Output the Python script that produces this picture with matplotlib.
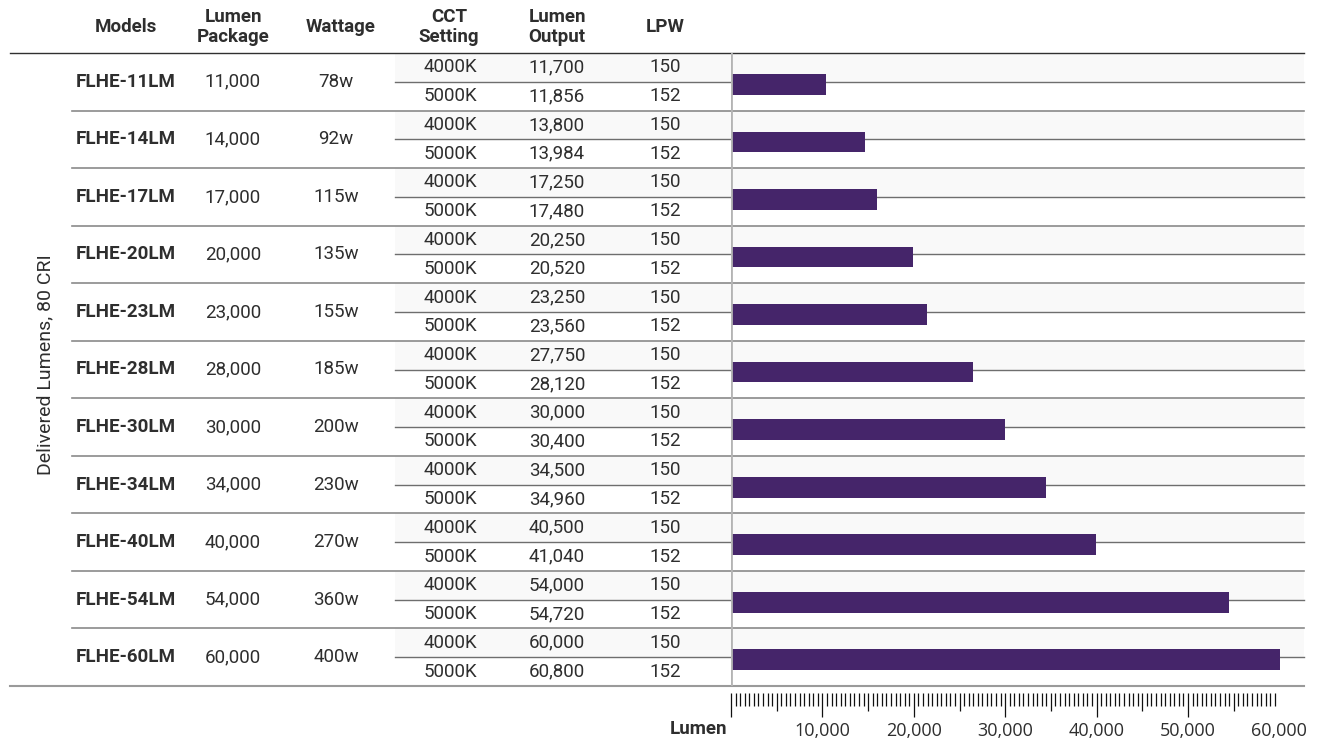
import matplotlib
matplotlib.use("Agg")
import matplotlib.pyplot as plt
from matplotlib.patches import Rectangle
from matplotlib.ticker import FixedLocator, FuncFormatter
from matplotlib.transforms import blended_transform_factory

plt.rcParams['font.family'] = ['Roboto', 'DejaVu Sans']

# table data
models = ['FLHE-11LM', 'FLHE-14LM', 'FLHE-17LM', 'FLHE-20LM', 'FLHE-23LM', 'FLHE-28LM',
          'FLHE-30LM', 'FLHE-34LM', 'FLHE-40LM', 'FLHE-54LM', 'FLHE-60LM']
lumen_package = [11000, 14000, 17000, 20000, 23000, 28000, 30000, 34000, 40000, 54000, 60000]
wattage = [78, 92, 115, 135, 155, 185, 200, 230, 270, 360, 400]
cct_settings = ['4000K', '5000K']
output_4000k = [11700, 13800, 17250, 20250, 23250, 27750, 30000, 34500, 40500, 54000, 60000]
output_5000k = [11856, 13984, 17480, 20520, 23560, 28120, 30400, 34960, 41040, 54720, 60800]
lpw = [150, 152]
# bar lengths
bar_values = [10390, 14660, 15970, 19910, 21440, 26480, 29980, 34460, 39930, 54490, 60070]

headers = ['Models', 'Lumen\nPackage', 'Wattage', 'CCT\nSetting', 'Lumen\nOutput', 'LPW']
header_x = [126, 233, 341, 449, 557, 665]

W, H = 1330, 740
TXT = '#2e2e2e'
BAR = '#45256a'
LINE = '#6e6e6e'

fig = plt.figure(figsize=(W / 100, H / 100), dpi=100)
ax = fig.add_axes([731 / W, 1 - 686 / H, 573 / W, 633 / H])
ax.patch.set_visible(False)
n = len(models)
ax.set_ylim(2 * n, 0)
ax.set_xlim(0, 62690)

tr = blended_transform_factory(fig.transFigure, ax.transData)


def px(x):
    return x / W


# shaded 4000K rows
for i in range(n):
    ax.add_patch(Rectangle((px(395), 2 * i), px(1304 - 395), 1, transform=tr,
                           facecolor='#f9f9f9', edgecolor='none', zorder=0, clip_on=False))

# bars
ax.barh([2 * i + 1.09 for i in range(n)], bar_values, height=0.72, color=BAR, zorder=3)
ax.axvline(0, color='#b4b4b4', lw=2, zorder=4)

# table lines
ax.plot([px(10), px(1304)], [0, 0], transform=tr, color='#303030', lw=1, clip_on=False, zorder=2)
for i in range(n):
    ax.plot([px(395), px(1304)], [2 * i + 1, 2 * i + 1], transform=tr, color=LINE, lw=1,
            clip_on=False, zorder=2)
    if i > 0:
        ax.plot([px(72), px(1304)], [2 * i, 2 * i], transform=tr, color='#8a8a8a', lw=1.2,
                clip_on=False, zorder=2)
ax.plot([px(10), px(1304)], [2 * n, 2 * n], transform=tr, color='#9a9a9a', lw=1.5,
        clip_on=False, zorder=2)

# table text
fs = 13.5
for i in range(n):
    yc = 2 * i + 1
    ax.text(px(126), yc, models[i], transform=tr, ha='center', va='center',
            fontsize=fs, fontweight='bold', color=TXT)
    ax.text(px(233), yc, f'{lumen_package[i]:,}', transform=tr, ha='center', va='center',
            fontsize=fs, color=TXT)
    ax.text(px(336), yc, f'{wattage[i]}w', transform=tr, ha='center', va='center',
            fontsize=fs, color=TXT)
    for j, out in enumerate([output_4000k[i], output_5000k[i]]):
        yr = 2 * i + j + 0.5
        ax.text(px(450), yr, cct_settings[j], transform=tr, ha='center', va='center',
                fontsize=fs, color=TXT)
        ax.text(px(557), yr, f'{out:,}', transform=tr, ha='center', va='center',
                fontsize=fs, color=TXT)
        ax.text(px(665), yr, str(lpw[j]), transform=tr, ha='center', va='center',
                fontsize=fs, color=TXT)

for h, x in zip(headers, header_x):
    fig.text(px(x), 1 - 27 / H, h, ha='center', va='center', fontsize=fs,
             fontweight='bold', color=TXT, linespacing=1.15)

fig.text(px(45), 1 - 365 / H, 'Delivered Lumens, 80 CRI', rotation=90, ha='center',
         va='center', fontsize=fs + 0.5, color=TXT)

# x axis: ticks every 500, medium every 5000, long every 10000
for s in ax.spines.values():
    s.set_visible(False)
ax.spines['bottom'].set_position(('outward', 5))
ax.set_yticks([])
ax.xaxis.set_major_locator(FixedLocator(list(range(0, 60001, 5000))))
ax.xaxis.set_minor_locator(FixedLocator([v for v in range(0, 59501, 500) if v % 5000]))
ax.xaxis.set_major_formatter(FuncFormatter(
    lambda v, p: f'{int(v):,}' if v and v % 10000 == 0 else ''))
ax.tick_params(axis='x', which='major', length=17, width=0.9, color='#111111', pad=4,
               labelsize=13, labelcolor=TXT)
ax.tick_params(axis='x', which='minor', length=9, width=0.9, color='#111111')
for lab in ax.get_xticklabels():
    lab.set_family(['Open Sans', 'DejaVu Sans'])
for v, t in zip(range(0, 60001, 5000), ax.xaxis.get_major_ticks()):
    if v == 60000:
        t.tick1line.set_markersize(0)
    elif v % 10000:
        t.tick1line.set_markersize(13)

fig.text(px(727), 1 - 729 / H, 'Lumen', ha='right', va='center', fontsize=fs,
         fontweight='bold', color=TXT)

fig.savefig('out.png', dpi=100)
